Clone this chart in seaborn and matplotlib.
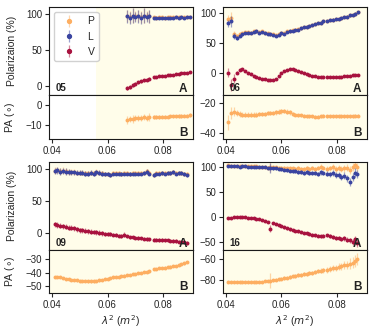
import matplotlib
matplotlib.use("Agg")
import matplotlib.pyplot as plt
import seaborn as sns
from matplotlib.lines import Line2D

# ---- data (lambda^2 in m^2, pol in %, PA in deg) ----
lam05 = [0.067, 0.068, 0.069, 0.070, 0.071, 0.072, 0.073, 0.074, 0.075,
         0.0765, 0.0775, 0.0785, 0.0795, 0.0805, 0.0815, 0.0825, 0.0835,
         0.0845, 0.0855, 0.0865, 0.0875, 0.0885, 0.0895]
P05 = [97.5, 96, 98, 97, 97.5, 96, 98, 97, 97,
       95.5, 95, 95.5, 95.5, 95, 95.5, 95.5, 95.5, 96, 95.5, 96, 95.5, 96, 96]
L05 = [97, 95, 98, 96, 97, 95, 98, 96, 97,
       95, 94.5, 95, 95, 94.5, 95, 95, 95, 95.5, 95, 95.5, 95, 95.5, 95.5]
V05 = [-3, -1, 1, 3, 5, 6.5, 8, 9, 10,
       12, 13, 13.5, 14, 14.5, 15, 15.5, 16, 16.5, 17, 17.5, 18, 18.5, 19]
PA05 = [-7.5, -7, -7, -6.5, -6.5, -6.5, -6, -6.5, -6,
        -6, -6, -6, -5.8, -5.8, -5.8, -5.7, -5.7, -5.6, -5.5, -5.5, -5.4, -5.3, -5]
eL05 = [9, 8, 10, 7, 9, 8, 10, 7, 9,
        1.5, 1.5, 1.5, 1.5, 1.5, 1.5, 1.5, 1.5, 1.5, 1.5, 1.5, 1.5, 1.5, 1.5]
eV05 = [2.5, 2.5, 2.5, 2, 2, 2, 2, 2, 2,
        1, 1, 1, 1, 1, 1, 1, 1, 1, 1, 1, 1, 1, 1]
ePA05 = [2, 1.5, 2, 1.5, 1.5, 1.5, 1.5, 1.5, 2,
         0.8, 0.8, 0.8, 0.8, 0.8, 0.8, 0.8, 0.8, 0.8, 0.8, 0.8, 0.8, 0.8, 0.8]

lam06 = [0.041, 0.042, 0.043, 0.044, 0.045, 0.046, 0.047, 0.048, 0.049, 0.050,
         0.051, 0.052, 0.053, 0.054, 0.055, 0.056, 0.057, 0.058, 0.059, 0.060,
         0.061, 0.062, 0.063, 0.064, 0.065, 0.066, 0.067, 0.068, 0.069, 0.070,
         0.071, 0.072, 0.073, 0.074, 0.075,
         0.0765, 0.0775, 0.0785, 0.0795, 0.0805, 0.0815, 0.0825, 0.0835,
         0.0845, 0.0855, 0.0865, 0.0875]
P06 = [90, 92, 65, 61, 64, 66, 68, 68, 67, 69, 70, 68, 69, 67, 66, 65, 64, 63,
       64, 67, 66, 69, 70, 71, 72, 73, 75, 76, 77, 78, 80, 81, 83, 84, 86,
       87, 88, 89, 90, 90, 92, 93, 94, 96, 97, 99, 101]
L06 = [83, 86, 62, 58, 62, 64, 66, 67, 66, 68, 69, 67, 68, 66, 65, 64, 63, 62,
       63, 66, 65, 68, 69, 70, 71, 72, 74, 76, 77, 78, 80, 81, 83, 84, 86,
       87, 88, 89, 90, 90, 92, 93, 94, 96, 97, 99, 101]
V06 = [0, -20, -10, 0, 5, 6, 3, 0, -3, -6, -8, -9, -10, -11, -12, -13, -13, -10,
       -6, -1, 3, 5, 6, 6.5, 5, 3, 1, -1, -3, -4.5, -5.5, -6.5, -7.5, -8, -8,
       -8, -8, -8, -8, -7.5, -7, -6, -5.5, -5, -4, -4, -4.5]
PA06 = [-33, -27, -26, -27, -27.5, -28, -28, -28, -28, -28, -28, -27.5, -27.5,
        -27.5, -27, -27, -27, -26.5, -26, -25.8, -25.5, -26, -26.5, -27.5, -28,
        -28.3, -28.5, -28.7, -29, -29, -29.2, -29.3, -29.3, -29, -28.7,
        -29, -29, -29.2, -29, -29, -29.1, -29, -29.2, -29, -29, -28.8, -28.7]
eL06 = [6, 9, 5, 3, 2, 2, 2, 2, 2, 2, 2, 2, 2, 2, 2, 2, 2, 2, 2, 2, 2, 2, 2, 2,
        2, 2, 2, 2, 2, 2, 2, 2, 2, 2, 2, 2, 2, 2, 2, 2, 2, 2, 2, 2, 2, 2, 2]
eV06 = [8, 10, 7, 3, 2, 1.5, 1.5, 1.5, 1.5, 1.5, 1.5, 1.5, 1.5, 1.5, 1.5, 1.5,
        1.5, 1.5, 1.5, 1.5, 1.5, 1.5, 1.5, 1.5, 1.5, 1.5, 1.5, 1.5, 1.5, 1.5,
        1.5, 1.5, 1.5, 1.5, 1.5, 1.5, 1.5, 1.5, 1.5, 1.5, 1.5, 1.5, 1.5, 1.5,
        1.5, 1.5, 1.5]
ePA06 = [5, 4, 3, 2, 2, 1.5, 1.5, 1.5, 1.5, 1.5, 1.5, 1.5, 1.5, 1.5, 1.5, 1.5,
         1.5, 1.5, 1.5, 1.5, 1.5, 1.5, 1.5, 1.5, 1, 1, 1, 1, 1, 1, 1, 1, 1, 1,
         1, 1, 1, 1, 1, 1, 1, 1, 1, 1, 1, 1, 1]

lam09 = [0.041, 0.042, 0.043, 0.044, 0.045, 0.046, 0.047, 0.048, 0.049, 0.050,
         0.051, 0.052, 0.053, 0.054, 0.055, 0.056, 0.057, 0.058, 0.059, 0.060,
         0.061, 0.062, 0.063, 0.064, 0.065, 0.066, 0.067, 0.068, 0.069, 0.070,
         0.071, 0.072, 0.073, 0.074, 0.075,
         0.0765, 0.0775, 0.0785, 0.0795, 0.0805, 0.0815, 0.0825, 0.0835,
         0.0845, 0.0855, 0.0865, 0.0875, 0.0885]
P09 = [97.5, 98.5, 96.5, 97.5, 96.5, 95.5, 95.5, 95.5, 94.5, 94.5, 94.5, 93.5,
       93.5, 94.5, 93.5, 95.5, 94.5, 93.5, 92.5, 92.5, 91.5, 93.5, 93.5, 93.5,
       92.5, 93.5, 93.5, 92.5, 93.5, 93.5, 93.5, 93.5, 94.5, 96.5, 93.5,
       91.5, 93.5, 93.5, 94.5, 93.5, 94.5, 94.5, 95.5, 93.5, 94.5, 94.5, 93, 92]
L09 = [97, 98, 96, 97, 96, 95, 95, 95, 94, 94, 94, 93, 93, 94, 93, 95, 94, 93,
       92, 92, 91, 93, 93, 93, 92, 93, 93, 92, 93, 93, 93, 93, 94, 96, 93,
       91, 93, 93, 94, 93, 94, 94, 95, 93, 94, 94, 92, 91]
V09 = [14, 13, 12, 11, 10, 9, 8.5, 8, 6, 5, 4.5, 4, 3, 2.5, 2, 1.5, 1, 0, -0.5,
       -1, -1.5, -2, -3, -3.5, -4, -2.5, -5, -6, -6.5, -7, -7.5, -8, -8.5, -9,
       -9.5, -10, -10, -10.5, -10.5, -11, -11, -11.5, -12, -12, -13, -13, -14, -15]
PA09 = [-43, -43, -43.5, -44, -44.5, -45, -45.3, -45.6, -45.8, -46, -46.2,
        -46.4, -46.5, -46.5, -46.5, -46.2, -45.8, -45.3, -44.8, -44.4, -44,
        -43.6, -43.3, -43, -42.6, -42.2, -41.8, -41.5, -41.2, -41, -40.6, -40.2,
        -39.8, -39.5, -39.2, -37.5, -37.2, -36.9, -36.6, -36.3, -36, -35.6,
        -35.3, -35, -34.5, -34, -33.3, -32.5]
eL09 = [5, 5, 5, 5, 5, 5, 4, 4, 4, 4, 4, 4, 4, 4, 4, 4, 4, 4, 3, 3, 3, 3, 3, 3,
        3, 3, 3, 3, 3, 3, 3, 3, 3, 4, 3, 3, 3, 3, 3, 3, 3, 3, 3, 3, 3, 3, 3, 3]
eV09 = [4, 4, 4, 4, 4, 4, 4, 4, 4, 4, 4, 4, 4, 3.5, 3.5, 3.5, 3.5, 3.5, 3, 3,
        3, 3, 3, 3, 3, 4, 3, 2.5, 2.5, 2.5, 2.5, 2.5, 2.5, 2.5, 2.5, 2.5, 2.5,
        2.5, 2.5, 2.5, 2.5, 2.5, 2.5, 2.5, 2.5, 2.5, 2.5, 2.5]
ePA09 = [0.8] * 48

lam16 = [0.041, 0.042, 0.043, 0.044, 0.045, 0.046, 0.047, 0.048, 0.049, 0.050,
         0.051, 0.052, 0.053, 0.054, 0.055, 0.056, 0.057, 0.058, 0.059, 0.060,
         0.061, 0.062, 0.063, 0.064, 0.065, 0.066, 0.067, 0.068, 0.069, 0.070,
         0.071, 0.072, 0.073, 0.074, 0.075,
         0.0765, 0.0775, 0.0785, 0.0795, 0.0805, 0.0815, 0.0825, 0.0835,
         0.0845, 0.0855, 0.0865, 0.087]
P16 = [102.5, 101.5, 101.5, 101.5, 100.5, 101.5, 101.5, 100.5, 100.5, 100.5,
       100.5, 99.5, 99.5, 99.5, 98.5, 99, 99, 99, 98, 98, 98, 97, 97, 97, 96,
       97, 96, 96, 97, 96, 97, 96, 97, 100, 97,
       96, 97, 99, 96, 97, 95, 97, 98, 94, 99, 104, 100]
L16 = [102, 101, 101, 101, 100, 101, 101, 100, 100, 100, 100, 99, 99, 99, 98,
       98, 97, 97, 96, 95, 94, 93, 92, 91, 91, 89, 90, 88, 89, 87, 88, 87, 86,
       89, 87, 86, 85, 87, 83, 84, 80, 82, 77, 70, 80, 88, 86]
V16 = [-3, -2, -1, 0, 0.5, 0, -1, -1.5, -2.5, -3, -4, -5, -6, -8, -10, -24, -13,
       -15, -17, -19, -21, -23, -25, -26, -28, -29, -30, -32, -33, -34, -36, -37,
       -38, -39, -38, -37, -39, -41, -42, -43, -45, -43, -46, -47, -51, -45, -53]
PA16 = [-82, -82, -82.3, -82.5, -82.5, -82.6, -82.6, -82.5, -82.5, -82.4, -82.3,
        -82.2, -82, -81.7, -81.5, -81, -80.5, -80, -79.6, -79, -78.5, -78, -77.5,
        -77, -76.3, -75.8, -75.3, -74.7, -74.2, -73.8, -73.3, -72.7, -72, -71.5,
        -71, -70.5, -69.5, -69, -68.5, -67.5, -67, -66, -65.5, -64.5, -63.5, -62,
        -60]
eL16 = [2, 2, 2, 2, 2, 2, 2, 2, 2, 2, 2, 2, 2, 2, 2, 10, 3, 3, 3, 3, 3, 3, 3, 3,
        4, 4, 4, 4, 4, 4, 4, 4, 4, 5, 4, 5, 5, 6, 6, 6, 6, 7, 7, 8, 8, 9, 8]
eV16 = [1.5, 1.5, 1.5, 1.5, 1.5, 1.5, 1.5, 1.5, 1.5, 1.5, 1.5, 1.5, 1.5, 1.5,
        1.5, 7, 2, 2, 2, 2, 2.5, 2.5, 2.5, 2.5, 2.5, 2.5, 2.5, 2.5, 3, 3, 3, 3,
        3, 3, 3, 3, 4, 4, 4, 4, 4, 5, 5, 5, 6, 6, 8]
ePA16 = [1, 1, 1, 1, 1, 1, 1, 1, 1, 1, 1, 1, 1, 1, 1, 7, 1.5, 1.5, 1.5, 1.5, 1.5,
         1.5, 1.5, 1.5, 2, 2, 2, 2, 2, 2, 2, 2, 2, 2.5, 2.5, 3, 3, 3, 3, 3.5,
         3.5, 4, 4, 5, 5, 6, 6]

sns.set_theme(style="ticks", rc={
    "axes.edgecolor": "#1a1a1a", "axes.linewidth": 0.8,
    "xtick.major.size": 3, "ytick.major.size": 3,
    "xtick.major.width": 0.8, "ytick.major.width": 0.8,
    "xtick.labelsize": 7, "ytick.labelsize": 7, "axes.labelsize": 7.5,
    "xtick.major.pad": 2, "ytick.major.pad": 2,
})
plt.rcParams["font.family"] = ["Liberation Sans", "DejaVu Sans"]

col_P, col_L, col_V = "#fdae61", "#3a44a0", "#a8123f"
bg = "#fffdea"
xlim = (0.039, 0.0905)

fig = plt.figure(figsize=(3.74, 3.36), dpi=100)

# name, x, P, L, V, PA, errs, A ylim/ticks, B ylim/ticks, span start, column, row
panels = [
    ("05", lam05, P05, L05, V05, PA05, eL05, eV05, ePA05,
     (-12.5, 110), [0, 50, 100], (-17, 5), [-10, 0], 0.0557, 0, 0),
    ("06", lam06, P06, L06, V06, PA06, eL06, eV06, ePA06,
     (-37.5, 110), [0, 50, 100], (-44.2, -14.9), [-40, -20], xlim[0], 1, 0),
    ("09", lam09, P09, L09, V09, PA09, eL09, eV09, ePA09,
     (-26, 111), [0, 50, 100], (-55, -23.4), [-50, -40, -30], xlim[0], 0, 1),
    ("16", lam16, P16, L16, V16, PA16, eL16, eV16, ePA16,
     (-66, 109.5), [-50, 0, 50, 100], (-93, -51.3), [-80, -60], xlim[0], 1, 1),
]

lefts = [0.131, 0.596]
width = 0.384
rows = [(0.7173, 0.2619, 0.5863, 0.131), (0.2560, 0.2619, 0.1280, 0.128)]


def draw(ax, x, y, err, color, z):
    ax.errorbar(x, y, yerr=err, fmt="none", ecolor=color, elinewidth=0.9,
                alpha=0.5, zorder=z)
    sns.scatterplot(x=x, y=y, color=color, s=8, linewidth=0, ax=ax,
                    zorder=z + 0.5)


for (name, x, P, L, V, PA, eL, eV, ePA, ylA, ytA, ylB, ytB, span,
     c, r) in panels:
    a_bot, a_h, b_bot, b_h = rows[r]
    axA = fig.add_axes([lefts[c], a_bot, width, a_h])
    axB = fig.add_axes([lefts[c], b_bot, width, b_h])
    for ax in (axA, axB):
        ax.set_facecolor("white")
        ax.axvspan(span, xlim[1], color=bg, lw=0, zorder=0)
        ax.set_xlim(*xlim)
        ax.set_xticks([0.04, 0.06, 0.08])
        for s in ax.spines.values():
            s.set_visible(True)

    draw(axA, x, P, eL, col_P, 2)
    draw(axA, x, L, eL, col_L, 3)
    draw(axA, x, V, eV, col_V, 4)
    draw(axB, x, PA, ePA, col_P, 2)

    axA.set_ylim(*ylA)
    axA.set_yticks(ytA)
    axB.set_ylim(*ylB)
    axB.set_yticks(ytB)
    axA.tick_params(axis="x", bottom=False, labelbottom=False)
    axB.set_xticklabels(["0.04", "0.06", "0.08"])

    axA.text(0.045, 0.05, name, transform=axA.transAxes, fontsize=7,
             fontweight="bold", color="#222222", zorder=10)
    axA.text(0.965, 0.035, "A", transform=axA.transAxes, fontsize=8.5,
             fontweight="bold", ha="right", color="#222222", zorder=10)
    axB.text(0.965, 0.06, "B", transform=axB.transAxes, fontsize=8.5,
             fontweight="bold", ha="right", color="#222222", zorder=10)

    if c == 0:
        axA.set_ylabel("Polarizaion (%)")
        axB.set_ylabel(r"PA ($\circ$)")
        axA.yaxis.set_label_coords(-0.22, 0.5)
        axB.yaxis.set_label_coords(-0.22, 0.5)
    if r == 1:
        axB.set_xlabel(r"$\lambda^2$ ($m^2$)", labelpad=2)

    if name == "05":
        handles = []
        for col in (col_P, col_L, col_V):
            handles.append((
                Line2D([0], [0], color=col, marker="|", ls="none", ms=9,
                       mew=0.9, alpha=0.5),
                Line2D([0], [0], color=col, marker="o", ls="none", ms=2.8),
            ))
        axA.legend(handles, ["P", "L", "V"], loc="upper left", fontsize=7.5,
                   frameon=True, framealpha=0.9, edgecolor="#cccccc")

fig.savefig("out.png", dpi=100)
